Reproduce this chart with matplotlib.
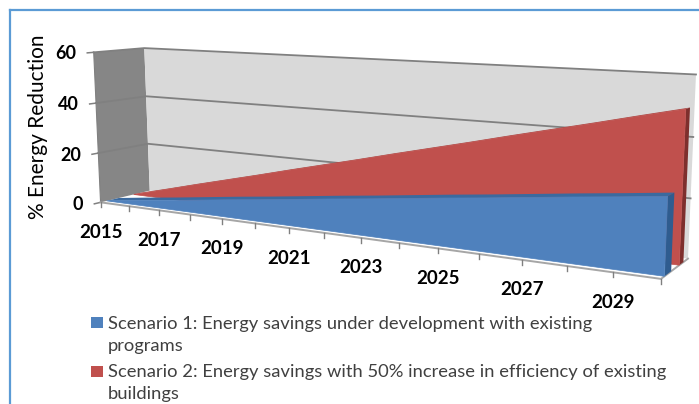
import numpy as np
import matplotlib
matplotlib.use("Agg")
import matplotlib.pyplot as plt
from matplotlib.patches import Polygon, Rectangle

# %%
# Chart data
years = list(range(2015, 2031))
scenario1 = [0, 1.7, 3.3, 5, 6.7, 8.3, 10, 11.7, 13.3, 15, 16.7, 18.3, 20, 21.7, 23.3, 25]
scenario2 = [0, 3.3, 6.7, 10, 13.3, 16.7, 20, 23.3, 26.7, 30, 33.3, 36.7, 40, 43.3, 46.7, 50]
y_ticks = [0, 20, 40, 60]
x_labels = [2015, 2017, 2019, 2021, 2023, 2025, 2027, 2029]
y_label = "% Energy Reduction"
legend1 = "Scenario 1: Energy savings under development with existing\nprograms"
legend2 = "Scenario 2: Energy savings with 50% increase in efficiency of existing\nbuildings"

# depth bands of the two series on the floor, 0 is front, 1 is back
band1 = (0.12, 0.36)
band2 = (0.66, 0.82)

# %%
# Camera: fit a projective map from (year, value, depth) to pixels
calib = [
    (2015, 60, 0, 94, 52), (2015, 0, 0, 100.5, 203),
    (2015, 60, 1, 144, 48), (2015, 0, 1, 150, 190),
    (2030, 60, 1, 696, 75), (2030, 0, 1, 688, 259),
    (2030, 0, 0, 661.5, 278),
    (2019, 0, 0, 222, 219.5), (2023, 0, 0, 360, 238), (2027, 0, 0, 522, 259.5),
]
A = []
for wx, wy, wz, px, py in calib:
    w = [(wx - 2015) / 15, wy / 60, wz, 1]
    A.append(w + [0] * 4 + [-px * c for c in w])
    A.append([0] * 4 + w + [-py * c for c in w])
P = np.linalg.svd(np.array(A))[2][-1].reshape(3, 4)


def proj(year, value, depth):
    h = P @ np.array([(year - 2015) / 15, value / 60, depth, 1])
    return h[0] / h[2], h[1] / h[2]


def face(ax, pts, color, z, ec="none", lw=0.0):
    ax.add_patch(Polygon([proj(*p) for p in pts], closed=True, fc=color, ec=ec, lw=lw, zorder=z))


def area(ax, values, band, c_front, c_top, c_side, z):
    d0, d1 = band
    top_f = [(y, v, d0) for y, v in zip(years, values)]
    top_b = [(y, v, d1) for y, v in zip(years, values)]
    face(ax, top_f + top_b[::-1], c_top, z)
    face(ax, [(years[-1], values[-1], d0), (years[-1], values[-1], d1),
              (years[-1], 0, d1), (years[-1], 0, d0)], c_side, z + 0.1)
    face(ax, top_f + [(years[-1], 0, d0)], c_front, z + 0.2, ec=c_front, lw=0.5)


# %%
plt.rcParams["font.family"] = ["Lato", "DejaVu Sans"]
fig = plt.figure(figsize=(6.99, 4.04), dpi=100)
ax = fig.add_axes([0, 0, 1, 1])
ax.set_xlim(0, 699)
ax.set_ylim(404, 0)
ax.axis("off")

# outer frame
ax.plot([10, 10], [404, 10], color="#5b9bd5", lw=1.6, zorder=1)
ax.plot([10, 699], [10, 10], color="#5b9bd5", lw=1.6, zorder=1)

# walls
face(ax, [(2015, 0, 0), (2015, 60, 0), (2015, 60, 1), (2015, 0, 1)], "#868686", 2)
face(ax, [(2015, 0, 1), (2015, 60, 1), (2030, 60, 1), (2030, 0, 1)], "#d9d9d9", 2)

# gridlines
for v in y_ticks[1:]:
    pts = [proj(2015, v, 0), proj(2015, v, 1), proj(2030, v, 1)]
    ax.plot(*zip(*pts), color="#808080", lw=1.3, zorder=3)
for v in y_ticks:
    ax.plot(*zip(proj(2015, v, 0), proj(2015, v, -0.12)), color="#808080", lw=1.1, zorder=3)
ax.plot(*zip(proj(2015, 0, 0), proj(2015, 60, 0)), color="#808080", lw=0.8, zorder=3)

# floor edges and year ticks
ax.plot(*zip(proj(2015, 0, 0), proj(2030, 0, 0), proj(2030, 0, 1)), color="#a6a6a6", lw=1.4, zorder=3)
for y in years:
    a, b = proj(y, 0, 0)
    ax.plot([a, a], [b, b + 5], color="#808080", lw=1.0, zorder=3)

# series, the back one first
area(ax, scenario2, band2, "#c0504d", "#a94744", "#7e2f2d", 4)
area(ax, scenario1, band1, "#4f81bd", "#3b6a9f", "#2f5c8f", 5)

# tick labels
for v in y_ticks:
    a, b = proj(2015, v, -0.12)
    ax.text(a - 11, b + 1, str(v), ha="right", va="center", fontsize=13, fontweight="bold", color="black")
for y in x_labels:
    a, b = proj(y, 0, 0)
    ax.text(a, b + 30, str(y), ha="center", va="center", fontsize=13.5, fontweight="bold", color="black")
ax.text(38, 127, y_label, rotation=90, ha="center", va="center", fontsize=15, color="black")

# legend
ax.add_patch(Rectangle((91, 317), 12, 11, fc="#4f81bd", ec="none"))
ax.add_patch(Rectangle((91, 366), 12, 11, fc="#c0504d", ec="none"))
ax.text(108, 316, legend1, va="top", ha="left", fontsize=13.2, color="#404040", linespacing=1.45)
ax.text(108, 364, legend2, va="top", ha="left", fontsize=13.2, color="#404040", linespacing=1.45)

fig.savefig("out.png", dpi=100)
